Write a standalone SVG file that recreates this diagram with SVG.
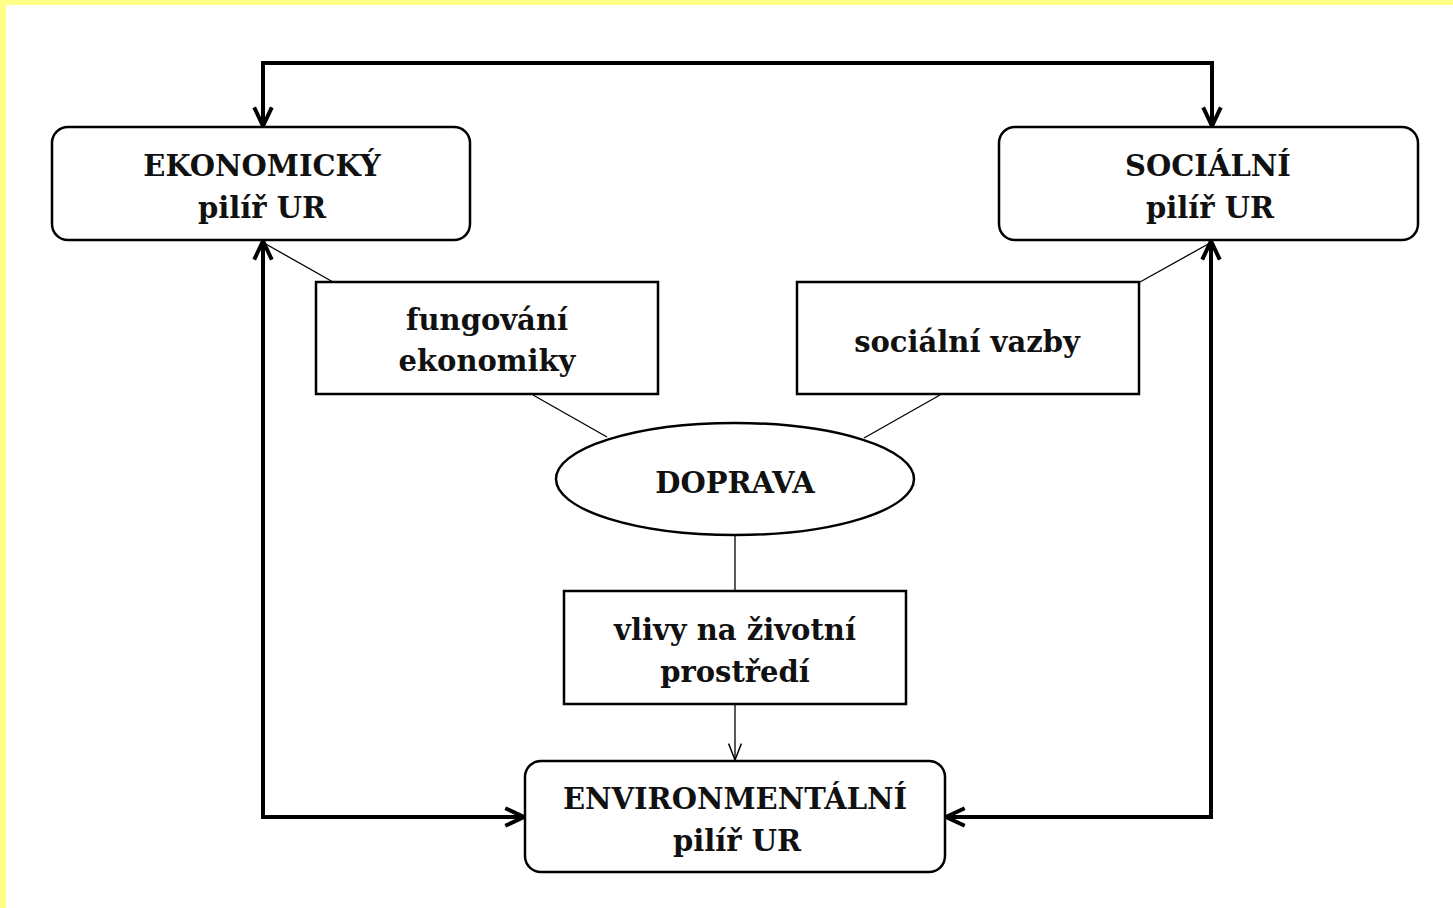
<svg xmlns="http://www.w3.org/2000/svg" width="1453" height="908" viewBox="0 0 1453 908">
<defs>
<style>
.box{fill:#fff;stroke:#000;stroke-width:2.5}
.rbox{fill:#fff;stroke:#000;stroke-width:2.5}
.thick{fill:none;stroke:#000;stroke-width:4}
.thin{fill:none;stroke:#000;stroke-width:1.3}
text{font-family:"DejaVu Serif","Liberation Serif",serif;font-weight:bold;font-size:29px;fill:#111;text-anchor:middle}
</style>
<marker id="ah" viewBox="0 0 10 10" refX="9.5" refY="5" markerWidth="5.5" markerHeight="5.5" markerUnits="strokeWidth" orient="auto-start-reverse">
<path d="M1,1 L9.5,5 L1,9" fill="none" stroke="#000" stroke-width="1.8"/>
</marker>
<marker id="ahs" viewBox="0 0 10 10" refX="10" refY="5" markerWidth="14" markerHeight="14" markerUnits="strokeWidth" orient="auto">
<path d="M1,1.5 L10,5 L1,8.5" fill="none" stroke="#000" stroke-width="0.8"/>
</marker>
</defs>
<rect x="0" y="0" width="1453" height="908" fill="#fff"/>
<rect x="0" y="0" width="1453" height="5" fill="#ffff88"/>
<rect x="0" y="0" width="6" height="908" fill="#ffff88"/>
<g id="connectors">
<line class="thin" x1="333" y1="282" x2="264" y2="243"/>
<line class="thin" x1="1140" y1="282" x2="1210" y2="243"/>
<line class="thin" x1="533" y1="395" x2="607" y2="437"/>
<line class="thin" x1="940" y1="395" x2="864" y2="438"/>
<line class="thin" x1="735" y1="535" x2="735" y2="591"/>
<line class="thin" x1="735" y1="704" x2="735" y2="760" marker-end="url(#ahs)"/>
<path class="thick" d="M263,126 V63 H1212 V126" marker-start="url(#ah)" marker-end="url(#ah)"/>
<path class="thick" d="M263,241 V817 H524" marker-start="url(#ah)" marker-end="url(#ah)"/>
<path class="thick" d="M1211,241 V817 H946" marker-start="url(#ah)" marker-end="url(#ah)"/>
</g>
<g id="ekonomicky">
<rect class="rbox" x="52" y="127" width="418" height="113" rx="16"/>
<text x="262" y="176">EKONOMICKÝ</text>
<text x="262" y="218">pilíř UR</text>
</g>
<g id="socialni">
<rect class="rbox" x="999" y="127" width="419" height="113" rx="16"/>
<text x="1208" y="176">SOCIÁLNÍ</text>
<text x="1210" y="218">pilíř UR</text>
</g>
<g id="fungovani">
<rect class="box" x="316" y="282" width="342" height="112"/>
<text x="487" y="330">fungování</text>
<text x="487" y="371">ekonomiky</text>
</g>
<g id="vazby">
<rect class="box" x="797" y="282" width="342" height="112"/>
<text x="967" y="352">sociální vazby</text>
</g>
<g id="doprava">
<ellipse class="box" cx="735" cy="479" rx="179" ry="56"/>
<text x="735" y="493">DOPRAVA</text>
</g>
<g id="vlivy">
<rect class="box" x="564" y="591" width="342" height="113"/>
<text x="735" y="640">vlivy na životní</text>
<text x="735" y="682">prostředí</text>
</g>
<g id="environmentalni">
<rect class="rbox" x="525" y="761" width="420" height="111" rx="16"/>
<text x="735" y="809">ENVIRONMENTÁLNÍ</text>
<text x="737" y="851">pilíř UR</text>
</g>
</svg>
